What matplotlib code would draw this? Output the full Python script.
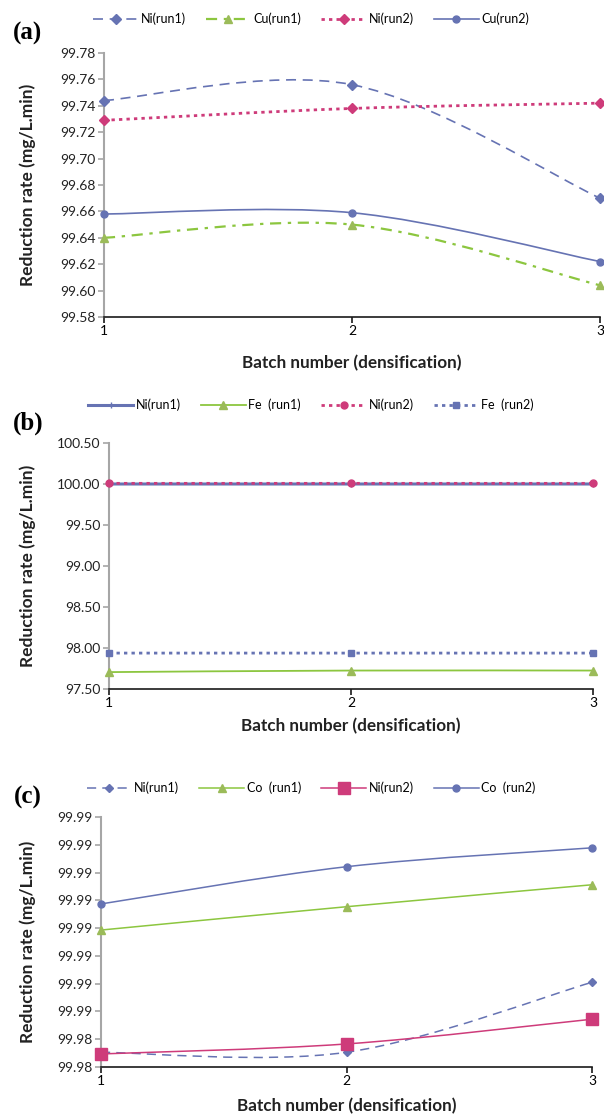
import matplotlib
matplotlib.use('Agg')
import matplotlib.pyplot as plt
from matplotlib.path import Path
from matplotlib.patches import PathPatch
from matplotlib.lines import Line2D

plt.rcParams['font.family'] = ['Lato', 'DejaVu Sans']

batch = [1, 2, 3]

# panel (a)
a_ni_run1 = [99.744, 99.756, 99.670]
a_cu_run1 = [99.640, 99.650, 99.604]
a_ni_run2 = [99.729, 99.738, 99.742]
a_cu_run2 = [99.658, 99.659, 99.622]
a_yticks = [99.58, 99.60, 99.62, 99.64, 99.66, 99.68, 99.70, 99.72, 99.74, 99.76, 99.78]

# panel (b)
b_ni_run1 = [100.00, 100.00, 100.00]
b_fe_run1 = [97.706, 97.725, 97.725]
b_ni_run2 = [100.008, 100.008, 100.008]
b_fe_run2 = [97.938, 97.938, 97.938]
b_yticks = [97.50, 98.00, 98.50, 99.00, 99.50, 100.00, 100.50]

# panel (c)
c_ni_run1 = [99.98353, 99.98353, 99.98605]
c_co_run1 = [99.98793, 99.98877, 99.98956]
c_ni_run2 = [99.98347, 99.98383, 99.98472]
c_co_run2 = [99.98887, 99.99021, 99.99089]
c_yticks = [99.983, 99.984, 99.985, 99.986, 99.987, 99.988, 99.989, 99.990, 99.991, 99.992]
c_ylabels = ['99.98', '99.98', '99.99', '99.99', '99.99', '99.99', '99.99',
             '99.99', '99.99', '99.99']

BLUE = '#6673B3'
GREEN = '#8CC63F'
GREEN_M = '#9BBB59'
PINK = '#CE3B7A'

W, H = 604, 1117


def smooth_path(x, y):
    # excel-style smoothed line: cubic bezier through the points
    pts = list(zip(x, y))
    verts = [pts[0]]
    codes = [Path.MOVETO]
    n = len(pts)
    for i in range(n - 1):
        p0 = pts[i - 1] if i > 0 else pts[i]
        p1 = pts[i]
        p2 = pts[i + 1]
        p3 = pts[i + 2] if i + 2 < n else pts[i + 1]
        c1 = (p1[0] + (p2[0] - p0[0]) / 6, p1[1] + (p2[1] - p0[1]) / 6)
        c2 = (p2[0] - (p3[0] - p1[0]) / 6, p2[1] - (p3[1] - p1[1]) / 6)
        verts += [c1, c2, p2]
        codes += [Path.CURVE4] * 3
    return Path(verts, codes)


def draw_series(ax, y, label, color, ls, lw, marker, ms, mfc=None):
    patch = PathPatch(smooth_path(batch, y), fill=False, edgecolor=color,
                      linestyle=ls, linewidth=lw, clip_on=False, zorder=2)
    ax.add_patch(patch)
    mfc = mfc or color
    ax.plot(batch, y, linestyle='none', marker=marker, markersize=ms,
            markerfacecolor=mfc, markeredgecolor=mfc, clip_on=False, zorder=3)
    return Line2D([], [], color=color, linestyle=ls, linewidth=lw,
                  marker=marker, markersize=ms, markerfacecolor=mfc,
                  markeredgecolor=mfc, label=label)


def make_axes(left, right, top, bottom):
    return fig.add_axes([left / W, 1 - bottom / H, (right - left) / W,
                         (bottom - top) / H])


def style_axes(ax, yticks, ylabels, top, bottom, panel, legend_y, handles,
               xlab_off):
    ax.set_xlim(1, 3)
    ax.set_ylim(yticks[0], yticks[-1])
    ax.set_xticks(batch)
    ax.set_xticklabels([str(b) for b in batch], fontsize=10)
    ax.set_yticks(yticks)
    ax.set_yticklabels(ylabels, fontsize=10, color='#222222')
    for s in ['top', 'right']:
        ax.spines[s].set_visible(False)
    ax.spines['left'].set_color('#A6A6A6')
    ax.spines['left'].set_linewidth(1.5)
    ax.spines['bottom'].set_color('#1A1A1A')
    ax.spines['bottom'].set_linewidth(1.2)
    ax.tick_params(axis='y', direction='out', length=4, width=1.2,
                   color='#A6A6A6', pad=2)
    ax.tick_params(axis='x', direction='out', length=4, width=1.2,
                   color='#1A1A1A', pad=2)
    ax.set_xlabel('Batch number (densification)', fontsize=12.3,
                  fontweight='bold', color='#222222', va='center')
    ax.xaxis.set_label_coords(0.5, -(xlab_off / (bottom - top)))
    mid = (top + bottom) / 2
    fig.text(28 / W, 1 - mid / H, 'Reduction rate (mg/L.min)', rotation=90,
             ha='center', va='center', fontsize=12.5, fontweight='bold',
             color='#222222')
    fig.text(28 / W, 1 - (top - 20) / H, panel, family='Liberation Serif',
             fontweight='bold', fontsize=18, ha='center', va='center')
    fig.legend(handles=handles, loc='center', ncol=4, frameon=False,
               bbox_to_anchor=(311 / W, 1 - legend_y / H), fontsize=9,
               handlelength=3.6, handletextpad=0.2, columnspacing=1.6)


fig = plt.figure(figsize=(W / 100, H / 100), dpi=100)

# (a)
ax_a = make_axes(104, 600, 53, 317)
h = [
    draw_series(ax_a, a_ni_run1, 'Ni(run1)', BLUE, (0, (6, 4)), 1.2, 'D', 5),
    draw_series(ax_a, a_cu_run1, 'Cu(run1)', GREEN, (0, (5, 3, 1.5, 3)), 1.6,
                '^', 6, GREEN_M),
    draw_series(ax_a, a_ni_run2, 'Ni(run2)', PINK, (0, (1.2, 1.5)), 2.0, 'D', 5),
    draw_series(ax_a, a_cu_run2, 'Cu(run2)', BLUE, '-', 1.2, 'o', 5),
]
style_axes(ax_a, a_yticks, ['%.2f' % v for v in a_yticks], 53, 317, '(a)', 19,
           h, 46)

# (b)
ax_b = make_axes(109, 593, 443, 689)
h = [
    draw_series(ax_b, b_ni_run1, 'Ni(run1)', BLUE, '-', 2.2, '|', 4),
    draw_series(ax_b, b_fe_run1, 'Fe  (run1)', GREEN, '-', 1.3, '^', 6, GREEN_M),
    draw_series(ax_b, b_ni_run2, 'Ni(run2)', PINK, (0, (1.2, 1.5)), 2.0, 'o', 5),
    draw_series(ax_b, b_fe_run2, 'Fe  (run2)', BLUE, (0, (1.2, 1.5)), 2.0, 's', 5),
]
style_axes(ax_b, b_yticks, ['%.2f' % v for v in b_yticks], 443, 689, '(b)', 405,
           h, 37)

# (c)
ax_c = make_axes(101, 592, 817, 1067)
h = [
    draw_series(ax_c, c_ni_run1, 'Ni(run1)', BLUE, (0, (6, 4)), 1.1, 'D', 4),
    draw_series(ax_c, c_co_run1, 'Co  (run1)', GREEN, '-', 1.1, '^', 6, GREEN_M),
    draw_series(ax_c, c_ni_run2, 'Ni(run2)', PINK, '-', 1.1, 's', 8),
    draw_series(ax_c, c_co_run2, 'Co  (run2)', BLUE, '-', 1.1, 'o', 5),
]
style_axes(ax_c, c_yticks, c_ylabels, 817, 1067, '(c)', 788, h, 39)

fig.savefig('out.png', dpi=100)
